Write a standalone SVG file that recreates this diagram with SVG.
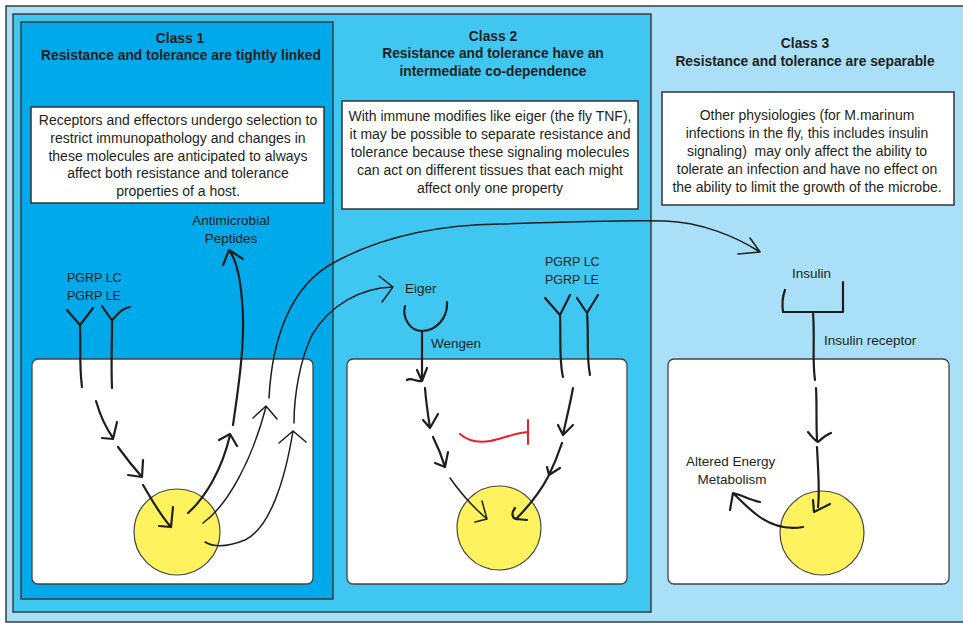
<svg xmlns="http://www.w3.org/2000/svg" width="963" height="623" viewBox="0 0 963 623">
<style>
.frame{stroke:#3d3d3d;stroke-width:1.5}
.box{fill:#fff;stroke:#333;stroke-width:1.5}
.cell{fill:#fff;stroke:#444;stroke-width:1.3}
.nuc{fill:#fef35f;stroke:#444;stroke-width:1.2}
.t{font-family:"Liberation Sans",Arial,sans-serif;fill:#231f20}
.title{font-size:13.8px;font-weight:bold;text-anchor:middle}
.body{font-size:14px;text-anchor:middle}
.lab{font-size:13.5px}
.pg{font-size:12.5px}
.ink{fill:none;stroke:#1e1e1e;stroke-width:2.2;stroke-linecap:round;stroke-linejoin:round}
.thin{fill:none;stroke:#1e1e1e;stroke-width:1.5;stroke-linecap:round;stroke-linejoin:round}
.red{fill:none;stroke:#e8202a;stroke-width:2;stroke-linecap:round}
</style>
<rect x="0" y="0" width="963" height="623" fill="#fff"/>
<g id="panel3"><rect class="frame" x="6" y="6" width="962" height="616" fill="#a9dff7"/></g>
<g id="panel2"><rect class="frame" x="13" y="14" width="638" height="598" fill="#3fc7f2"/></g>
<g id="panel1"><rect class="frame" x="21" y="22" width="312" height="577" fill="#00a9e9"/></g>

<g id="title1" class="t title">
<text x="180" y="43">Class 1</text>
<text x="181" y="60">Resistance and tolerance are tightly linked</text>
</g>
<g id="title2" class="t title">
<text x="493" y="41">Class 2</text>
<text x="493" y="58">Resistance and tolerance have an</text>
<text x="493" y="76">intermediate co-dependence</text>
</g>
<g id="title3" class="t title">
<text x="805" y="48">Class 3</text>
<text x="805" y="66">Resistance and tolerance are separable</text>
</g>

<g id="text1">
<rect class="box" x="31" y="107" width="293" height="96"/>
<g class="t body">
<text x="178" y="125">Receptors and effectors undergo selection to</text>
<text x="178" y="143">restrict immunopathology and changes in</text>
<text x="178" y="161">these molecules are anticipated to always</text>
<text x="178" y="178">affect both resistance and tolerance</text>
<text x="178" y="196">properties of a host.</text>
</g>
</g>
<g id="text2">
<rect class="box" x="342" y="101" width="296" height="108"/>
<g class="t body">
<text x="490" y="121">With immune modifies like eiger (the fly TNF),</text>
<text x="490" y="139">it may be possible to separate resistance and</text>
<text x="490" y="157">tolerance because these signaling molecules</text>
<text x="490" y="175">can act on different tissues that each might</text>
<text x="490" y="193">affect only one property</text>
</g>
</g>
<g id="text3">
<rect class="box" x="662" y="92" width="292" height="113"/>
<g class="t body">
<text x="807" y="120">Other physiologies (for M.marinum</text>
<text x="807" y="138">infections in the fly, this includes insulin</text>
<text x="807" y="156" xml:space="preserve">signaling)  may only affect the ability to</text>
<text x="807" y="174">tolerate an infection and have no effect on</text>
<text x="807" y="192">the ability to limit the growth of the microbe.</text>
</g>
</g>

<g id="cell1"><rect class="cell" x="32" y="359" width="281" height="225" rx="6"/><circle class="nuc" cx="177" cy="532" r="43"/></g>
<g id="cell2"><rect class="cell" x="347" y="359" width="280" height="225" rx="6"/><circle class="nuc" cx="499" cy="528" r="42"/></g>
<g id="cell3"><rect class="cell" x="668" y="359" width="281" height="225" rx="6"/><circle class="nuc" cx="822" cy="533" r="42"/></g>

<g id="labels" class="t lab">
<text x="231" y="225" text-anchor="middle">Antimicrobial</text>
<text x="231" y="243" text-anchor="middle">Peptides</text>
<text class="pg" x="67" y="282">PGRP LC</text>
<text class="pg" x="67" y="300">PGRP LE</text>
<text x="405" y="293">Eiger</text>
<text x="431" y="348">Wengen</text>
<text class="pg" x="545" y="266">PGRP LC</text>
<text class="pg" x="545" y="284">PGRP LE</text>
<text x="792" y="278">Insulin</text>
<text x="824" y="345">Insulin receptor</text>
<text x="686" y="466">Altered Energy</text>
<text x="732" y="484" text-anchor="middle">Metabolism</text>
</g>

<g id="receptors" class="ink">
<path d="M67,310 L80,325 L93,308 M80,325 C81,345 79,365 82,387"/>
<path d="M102,306 C106,312 110,318 112,320 C118,314 122,308 130,307 M112,320 C112,345 111,365 112,388"/>
<path d="M405,306 C402,318 410,331 422,331 C436,331 448,318 447,302 M422,331 L422,380"/>
<path d="M545,298 L560,315 L570,295 M560,315 C561,340 559,360 563,377"/>
<path d="M577,298 L587,313 L598,295 M587,313 C589,335 586,355 590,375"/>
<path d="M785,290 C782,298 782,305 783,312 L843,312 L843,282 M813,312 C815,340 812,360 815,380"/>
</g>

<g id="connectors">
<g class="ink">
<path d="M96,401 C100,415 106,428 113,438 M117,422 L113,439 L102,438"/>
<path d="M118,447 C126,458 134,468 142,477 M143,460 L142,477 L128,475"/>
<path d="M143,485 C152,500 160,515 171,527 M173,507 L171,527 L159,526"/>
<path d="M188,513 C205,498 222,470 230,435 M219,440 L230,434 L237,446"/>
<path d="M233,425 C238,390 246,340 242,300 C240,275 235,258 229,250 M223,265 L229,250 L243,259"/>
<path d="M407,380 C411,377 416,382 422,381 M417,370 L422,381 L427,368"/>
<path d="M425,388 C426,402 428,415 430,428 M423,420 L430,428 L438,414"/>
<path d="M433,437 C438,447 442,457 445,467 M435,463 L445,467 L448,452"/>
<path d="M573,388 C570,405 566,420 563,435 M558,425 L563,435 L573,425"/>
<path d="M562,443 C558,455 553,467 548,477 C540,492 530,505 516,519 M547,467 L549,475 L560,468 M515,508 C511,513 512,518 516,519 L527,520"/>
<path d="M816,388 C817,405 816,420 817,440 M808,432 C812,437 815,441 818,442 C822,438 826,435 831,433"/>
<path d="M817,447 C818,470 820,490 818,507 M813,500 L814,512 L830,504"/>
<path d="M803,527 C785,530 770,525 757,515 C748,508 740,500 733,493 M730,510 L733,493 C742,495 750,500 760,502"/>
</g>
<g class="thin">
<path d="M203,523 C228,505 252,460 266,407 M253,418 L266,406 L277,419"/>
<path d="M269,398 C272,340 290,285 335,262 C370,243 420,225 500,224 C560,222 620,220 665,221 C700,222 735,236 760,252 M750,238 L760,252 L738,254"/>
<path d="M205,542 C215,548 230,546 245,540 C270,528 285,480 293,431 M279,443 L293,431 L306,442"/>
<path d="M294,423 C294,395 300,360 312,335 C330,305 360,288 393,287 M379,276 L393,287 L382,302"/>
<path d="M450,478 C462,495 474,508 487,519 M482,501 L487,519 L475,522"/>
</g>
<path class="red" d="M460,434 C468,441 478,443 490,441 C502,439 514,433 528,432 M528,420 L528,444"/>
</g>
</svg>
